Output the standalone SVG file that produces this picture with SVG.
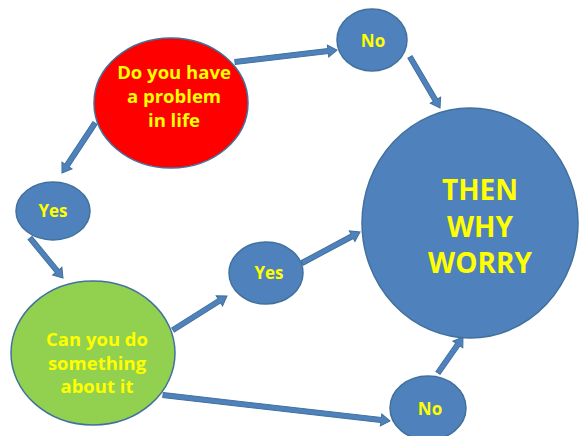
<svg xmlns="http://www.w3.org/2000/svg" width="579" height="436" viewBox="0 0 579 436">
<style>
.b{fill:#4F81BD;stroke:#41719C;stroke-width:1.5}
.r{fill:#FF0000;stroke:#41719C;stroke-width:1.5}
.g{fill:#92D050;stroke:#41719C;stroke-width:1.5}
.t{fill:#FFFF00;font-family:"Open Sans",Lato,"Liberation Sans",sans-serif;font-weight:bold;font-size:17px;text-anchor:middle}
.m{font-size:18.5px}
.big{font-size:28px}
.a{fill:#4F81BD;stroke:#41719C;stroke-width:1}
</style>
<rect width="579" height="436" fill="#FFFFFF"/>
<g id="connectors">
<path class="a" transform="translate(235,62) rotate(-6.71)" d="M0,-2.5 H93.7 V-6 L102.7,0 L93.7,6 V2.5 H0 Z"/>
<path class="a" transform="translate(410,57) rotate(59.53)" d="M0,-2.5 H50.2 V-6 L59.2,0 L50.2,6 V2.5 H0 Z"/>
<path class="a" transform="translate(95,123) rotate(123.42)" d="M0,-2.5 H50.9 V-6 L59.9,0 L50.9,6 V2.5 H0 Z"/>
<path class="a" transform="translate(30,238) rotate(50.5)" d="M0,-2.5 H42.9 V-6 L51.9,0 L42.9,6 V2.5 H0 Z"/>
<path class="a" transform="translate(173,330) rotate(-32.2)" d="M0,-2.5 H54.8 V-6 L63.8,0 L54.8,6 V2.5 H0 Z"/>
<path class="a" transform="translate(302,263) rotate(-28.1)" d="M0,-2.5 H56.8 V-6 L65.8,0 L56.8,6 V2.5 H0 Z"/>
<path class="a" transform="translate(163,395) rotate(6.53)" d="M0,-2.5 H219.5 V-6 L228.5,0 L219.5,6 V2.5 H0 Z"/>
<path class="a" transform="translate(438,373) rotate(-55.2)" d="M0,-2.5 H34.8 V-6 L43.8,0 L34.8,6 V2.5 H0 Z"/>
</g>
<g id="problem">
<ellipse class="r" cx="171" cy="103" rx="77" ry="65"/>
<text class="t m" x="174" y="79">Do you have</text>
<text class="t m" x="174" y="103">a problem</text>
<text class="t m" x="174" y="127">in life</text>
</g>
<g id="no-top">
<ellipse class="b" cx="372" cy="40" rx="35" ry="31"/>
<text class="t" x="373" y="47">No</text>
</g>
<g id="worry">
<ellipse class="b" cx="470" cy="223" rx="108" ry="115"/>
<text class="t big" x="480" y="200">THEN</text>
<text class="t big" x="480" y="237">WHY</text>
<text class="t big" x="480" y="273">WORRY</text>
</g>
<g id="yes-left">
<ellipse class="b" cx="53" cy="211" rx="37" ry="29"/>
<text class="t" x="53" y="217">Yes</text>
</g>
<g id="can-do">
<ellipse class="g" cx="93" cy="353" rx="82" ry="72"/>
<text class="t m" x="97" y="346">Can you do</text>
<text class="t m" x="97" y="370">something</text>
<text class="t m" x="97" y="393">about it</text>
</g>
<g id="yes-mid">
<ellipse class="b" cx="266" cy="273" rx="37" ry="31"/>
<text class="t" x="269" y="279">Yes</text>
</g>
<g id="no-bottom">
<ellipse class="b" cx="428" cy="408" rx="38" ry="32"/>
<text class="t" x="430" y="415">No</text>
</g>
</svg>
